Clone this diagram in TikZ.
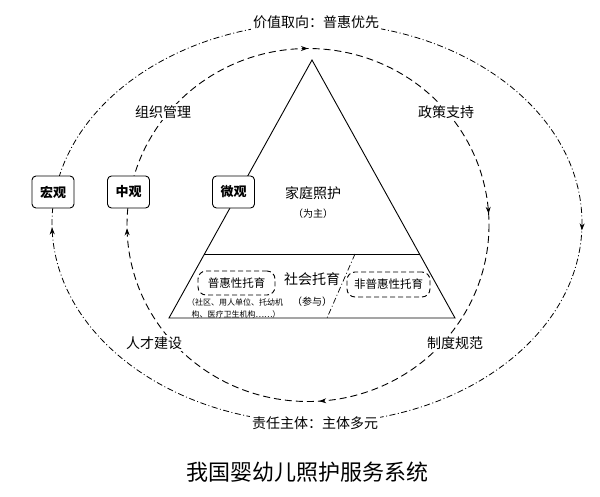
\documentclass[tikz,border=0pt]{standalone}
\usepackage{fontspec}
\setmainfont{Noto Sans CJK SC}
\usetikzlibrary{arrows.meta, calc, decorations.markings}

\tikzset{
  innerloop/.style={line width=0.9pt, dash pattern=on 7pt off 4pt,
    postaction={decorate}, decoration={markings,
      mark=at position 0.24 with {\arrow{Stealth[length=7pt,width=5pt]}},
      mark=at position 0.497 with {\arrow{Stealth[length=7pt,width=5pt]}},
      mark=at position 0.75 with {\arrow{Stealth[length=7pt,width=5pt]}},
      mark=at position 0.99 with {\arrow{Stealth[length=7pt,width=5pt]}}}},
  outerloop/.style={line width=0.8pt, dash pattern=on 6pt off 2.5pt on 1pt off 2.5pt,
    postaction={decorate}, decoration={markings,
      mark=at position 0.005 with {\arrow{Stealth[length=7pt,width=5pt]}},
      mark=at position 0.497 with {\arrow{Stealth[length=7pt,width=5pt]}}}},
  looplabel/.style={fill=white, inner sep=2pt, font=\fontsize{14pt}{16pt}\selectfont},
  levelbox/.style={draw, fill=white, rounded corners=4pt, line width=0.9pt,
    minimum width=42pt, minimum height=32pt, inner sep=1pt,
    font=\fontsize{13pt}{15pt}\selectfont\bfseries},
  typebox/.style={draw, rounded corners=8pt, line width=0.9pt,
    dash pattern=on 5pt off 3pt, inner sep=1pt,
    font=\fontsize{11.5pt}{13pt}\selectfont},
  midtext/.style={font=\fontsize{14pt}{16pt}\selectfont},
  subtext/.style={font=\fontsize{10pt}{12pt}\selectfont},
  tinytext/.style={font=\fontsize{8pt}{10pt}\selectfont}
}

\begin{document}
\begin{tikzpicture}[x=1pt, y=1pt, yscale=-1]
  \useasboundingbox[fill=white] (0,0) rectangle (600,496);
  % Loops
  \draw[outerloop] (317,223) ellipse [x radius=265, y radius=200];
  \draw[innerloop] (308,225) ellipse [x radius=181, y radius=176.5];
  % Triangle
  \coordinate (apex) at (312,60);
  \coordinate (baseL) at (169,318);
  \coordinate (baseR) at (455,318);
  \coordinate (cutL) at ($(apex)!0.752!(baseL)$);
  \coordinate (cutR) at ($(apex)!0.752!(baseR)$);
  \draw[line width=0.9pt] (apex) -- (baseL) -- (baseR) -- cycle;
  \draw[line width=0.9pt] (cutL) -- (cutR);
  % Divider between the two kinds of care
  \coordinate (divTop) at (355,254);
  \coordinate (divBot) at (327,318);
  \draw[line width=0.7pt, dash pattern=on 6pt off 2.5pt on 1pt off 2.5pt] (divTop) -- (divBot);
  % Loop labels
  \node[looplabel] (value) at (316,22) {价值取向：普惠优先};
  \node[looplabel] (subject) at (315,423) {责任主体：主体多元};
  \node[looplabel] (org) at (163,112) {组织管理};
  \node[looplabel] (policy) at (446,112) {政策支持};
  \node[looplabel] (talent) at (154,343) {人才建设};
  \node[looplabel] (rules) at (455,343) {制度规范};
  % Levels
  \node[levelbox] (macro) at (53,192) {宏观};
  \node[levelbox] (meso) at (128.5,192) {中观};
  \node[levelbox] (micro) at (233.5,192) {微观};
  % Inside the triangle
  \node[midtext] (family) at (313,193) {家庭照护};
  \node[subtext] (familyrole) at (313,214) {（为主）};
  \node[midtext] (society) at (312,279) {社会托育};
  \node[subtext] (societyrole) at (312,302) {（参与）};
  \node[typebox, minimum width=77pt, minimum height=24pt] (public) at (236.5,283) {普惠性托育};
  \node[typebox, minimum width=83pt, minimum height=25pt] (private) at (388.5,284.5) {非普惠性托育};
  \node[tinytext] (providers1) at (235,302) {（社区、用人单位、托幼机};
  \node[tinytext] (providers2) at (236,314) {构、医疗卫生机构……）};
  % Title
  \node[font=\fontsize{22pt}{26pt}\selectfont] (title) at (307,472) {我国婴幼儿照护服务系统};
\end{tikzpicture}
\end{document}
